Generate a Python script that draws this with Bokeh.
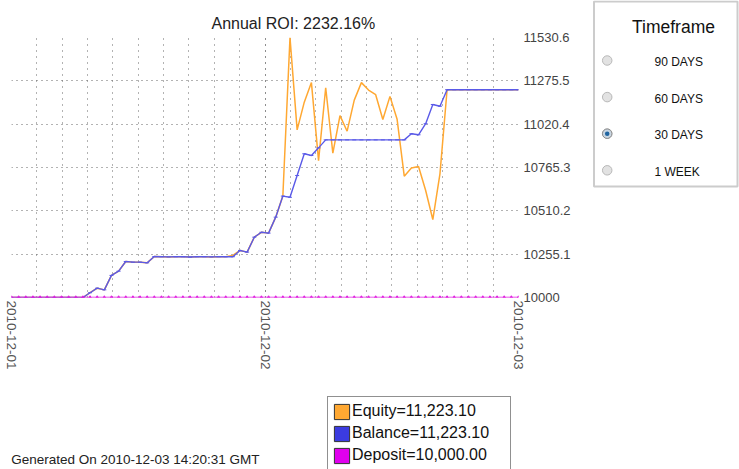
import pandas as pd
from bokeh.plotting import figure
from bokeh.models import (Range1d, FixedTicker, DatetimeTickFormatter,
                          Legend, LegendItem)
from bokeh.embed import file_html
from bokeh.resources import INLINE
from bokeh.core.properties import value

# ---------------- data ----------------
start_time = "2010-12-01 00:00"
end_time = "2010-12-03 00:00"
n_points = 72

balance = [10000, 10000, 10000, 10000, 10000, 10000, 10000, 10000, 10000, 10000,
           10000, 10028, 10055, 10045, 10130, 10155, 10212, 10208, 10208, 10204,
           10241, 10240, 10239, 10240, 10240, 10238, 10240, 10240, 10239, 10240,
           10240, 10240, 10277, 10267, 10355, 10384, 10379, 10473, 10597, 10590,
           10718, 10846, 10836, 10881, 10928, 10928, 10928, 10928, 10928, 10928,
           10928, 10928, 10928, 10928, 10928, 10928, 10964, 10958, 11023, 11136,
           11126, 11223.1, 11223.1, 11223.1, 11223.1, 11223.1, 11223.1, 11223.1, 11223.1, 11223.1,
           11223.1, 11223.1]

equity = [10000, 10000, 10000, 10000, 10000, 10000, 10000, 10000, 10000, 10000,
          10000, 10028, 10055, 10045, 10130, 10155, 10212, 10208, 10208, 10204,
          10241, 10240, 10239, 10240, 10240, 10238, 10240, 10240, 10239, 10240,
          10240, 10248, 10277, 10267, 10355, 10384, 10379, 10473, 10597, 11530.6,
          10987, 11150, 11265, 10806, 11235, 10850, 11071, 10979, 11162, 11265,
          11221, 11194, 11048, 11184, 11049, 10714, 10763, 10771, 10630, 10459,
          10728, 11223.1, 11223.1, 11223.1, 11223.1, 11223.1, 11223.1, 11223.1, 11223.1, 11223.1,
          11223.1, 11223.1]

deposit = [10000.0] * n_points

y_ticks = [10000, 10255.1, 10510.2, 10765.3, 11020.4, 11275.5, 11530.6]
y_labels = ["10000", "10255.1", "10510.2", "10765.3", "11020.4", "11275.5", "11530.6"]
day_ticks = ["2010-12-01", "2010-12-02", "2010-12-03"]
grid_steps_per_day = 10

title_text = "Annual ROI: 2232.16%"
footer_text = "Generated On 2010-12-03 14:20:31 GMT"
legend_labels = ["Equity=11,223.10", "Balance=11,223.10", "Deposit=10,000.00"]
timeframe_title = "Timeframe"
timeframe_options = ["90 DAYS", "60 DAYS", "30 DAYS", "1 WEEK"]
selected_option = "30 DAYS"

# ---------------- styles ----------------
W, H = 739, 469
C_EQ = "#FFA832"
C_BAL = "#5a5ae8"
C_DEP = "#E01EE0"
FONT = "Liberation Sans"

times = pd.date_range(start_time, end_time, periods=n_points)


def ms(t):
    return pd.Timestamp(t).value / 1e6


day_ms = [ms(d) for d in day_ticks]
step = (day_ms[1] - day_ms[0]) / grid_steps_per_day
minor_ms = [day_ms[0] + k * step for k in range(grid_steps_per_day * (len(day_ms) - 1) + 1)]

# ---------------- main chart ----------------
p = figure(width=W, height=H, output_backend="svg", toolbar_location=None,
           x_axis_type="datetime", y_axis_location="right",
           x_range=Range1d(times[0], times[-1]),
           y_range=Range1d(min(deposit), max(equity)),
           min_border_left=11, min_border_right=221, min_border_top=37,
           min_border_bottom=172)
p.outline_line_color = None
p.background_fill_color = "white"
p.border_fill_color = "white"

xa = p.xaxis[0]
xa.ticker = FixedTicker(ticks=day_ms, minor_ticks=minor_ms)
xa.formatter = DatetimeTickFormatter(days="%Y-%m-%d", months="%Y-%m-%d",
                                     hours="%Y-%m-%d", years="%Y-%m-%d",
                                     strip_leading_zeros=False)
xa.major_label_orientation = "vertical"
xa.axis_line_color = None
xa.major_tick_line_color = None
xa.minor_tick_line_color = None
xa.major_tick_out = 0
xa.major_tick_in = 0
xa.minor_tick_out = 0
xa.minor_tick_in = 0
xa.major_label_standoff = 3
xa.major_label_text_font = FONT
xa.major_label_text_font_size = "13.5px"
xa.major_label_text_color = "#555555"

ya = p.yaxis[0]
ya.ticker = FixedTicker(ticks=y_ticks)
ya.major_label_overrides = {t: l for t, l in zip(y_ticks, y_labels)}
ya.axis_line_color = None
ya.major_tick_line_color = None
ya.minor_tick_line_color = None
ya.major_tick_out = 0
ya.major_tick_in = 0
ya.minor_tick_out = 0
ya.minor_tick_in = 0
ya.major_label_standoff = 5
ya.major_label_text_font = FONT
ya.major_label_text_font_size = "13px"
ya.major_label_text_color = "#444444"

p.xgrid.grid_line_color = "#666666"
p.xgrid.grid_line_dash = "1 5"
p.xgrid.minor_grid_line_color = "#666666"
p.xgrid.minor_grid_line_dash = "1 5"
p.ygrid.grid_line_color = "#666666"
p.ygrid.grid_line_dash = "1 4"

p.line(times, equity, color=C_EQ, line_width=1.5)
p.line(times, balance, color=C_BAL, line_width=1.4)
p.scatter(times, balance, marker="dash", size=4, color=C_BAL, line_width=1)
p.line(times, deposit, color=C_DEP, line_width=1.6)
p.scatter(times, deposit, marker="triangle", size=3, color=C_DEP)

# ---------------- overlay: title, legend, footer, timeframe panel ----------------
o = figure(width=W, height=H, output_backend="svg", toolbar_location=None,
           x_axis_location=None, y_axis_location=None,
           x_range=Range1d(0, W), y_range=Range1d(H, 0),
           min_border=0, min_border_left=0, min_border_right=0,
           min_border_top=0, min_border_bottom=0,
           styles={"position": "absolute", "left": "0px", "top": "0px"})
o.grid.visible = False
o.outline_line_color = None
o.background_fill_color = None
o.border_fill_color = None

o.text([211], [23.3], text=[title_text], text_font=value(FONT), text_font_size="16px",
       text_color="#222222", text_align="left", text_baseline="alphabetic")
o.text([10.7], [458.5], text=[footer_text], text_font=value(FONT), text_font_size="13.5px",
       text_color="#222222", text_align="left", text_baseline="alphabetic")

# legend swatches: zero-size quads placed outside the visible range (legend entries only)
off = [-50]
r_eq = o.quad(left=off, right=off, top=off, bottom=off, fill_color=C_EQ, line_color="#333333")
r_bal = o.quad(left=off, right=off, top=off, bottom=off, fill_color="#3B3BE0", line_color="#333333")
r_dep = o.quad(left=off, right=off, top=off, bottom=off, fill_color="#E000EE", line_color="#333333")
legend = Legend(items=[LegendItem(label=legend_labels[0], renderers=[r_eq]),
                       LegendItem(label=legend_labels[1], renderers=[r_bal]),
                       LegendItem(label=legend_labels[2], renderers=[r_dep])],
                location=(327, -1), orientation="vertical",
                glyph_width=19, glyph_height=19, label_height=20, label_width=154,
                label_standoff=1, padding=4, spacing=2, margin=0,
                border_line_color="#222222", border_line_width=1,
                background_fill_color="white", background_fill_alpha=1,
                label_text_font=FONT, label_text_font_size="16px",
                label_text_color="#111111")
o.add_layout(legend, "center")

# timeframe selector box
o.quad(left=[593.5], right=[737], top=[1], bottom=[186], fill_color="white",
       line_color="#cccccc", line_width=2)
o.text([673], [26.7], text=[timeframe_title], text_font=value(FONT),
       text_font_size="17.5px", text_color="#111111", text_baseline="alphabetic",
       text_align="center")
idx = list(range(len(timeframe_options)))
cy = [60 + 36.6 * i for i in idx]
ty = [61.5 + 36.6 * i for i in idx]
o.scatter([606.7] * len(idx), cy, marker="circle", size=9.5,
          fill_color="#e2e2e2", line_color="#b8b8b8", line_width=1)
sel = timeframe_options.index(selected_option)
o.scatter([606.7], [cy[sel]], marker="circle", size=9.5, fill_color="#c9d6e2",
          line_color="#8c8c8c", line_width=1)
o.scatter([606.7], [cy[sel]], marker="circle", size=4.5, fill_color="#1f64a0", line_color=None)
o.text([654] * len(idx), ty, text=timeframe_options, text_font=value(FONT),
       text_font_size="12px", text_color="#111111", text_baseline="alphabetic",
       text_align="left")

open("out.html", "w").write(file_html([p, o], INLINE))
